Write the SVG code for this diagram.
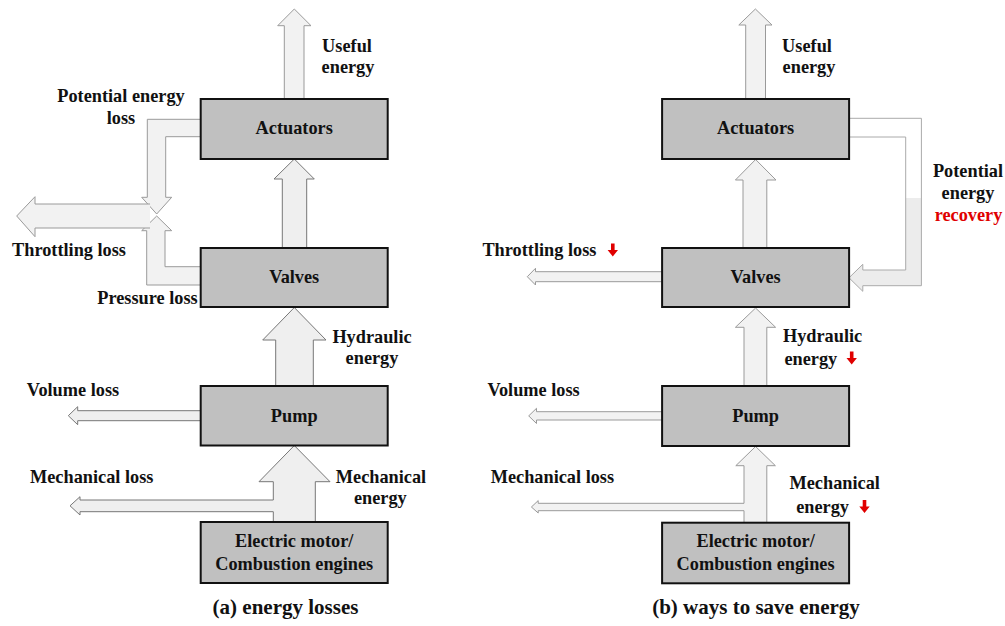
<svg xmlns="http://www.w3.org/2000/svg" width="1005" height="626" viewBox="0 0 1005 626">
<style>
.box{fill:#c0c0c0;stroke:#111;stroke-width:2}
.t{font-family:"Liberation Serif","Times New Roman",serif;font-weight:bold;font-size:18.3px;fill:#111;text-anchor:middle}
.title{font-family:"Liberation Serif","Times New Roman",serif;font-weight:bold;font-size:21px;fill:#111;text-anchor:middle}
.red{fill:#e00000}
.ar{fill:#efefef;stroke:#777;stroke-width:1;stroke-linejoin:miter}
.arl{fill:#f2f2f2;stroke:#9a9a9a;stroke-width:1}
.rd{fill:#e00000;stroke:none}
</style>
<defs>
<linearGradient id="rec" gradientUnits="userSpaceOnUse" x1="0" y1="118" x2="0" y2="292">
<stop offset="0" stop-color="#ffffff"/>
<stop offset="0.46" stop-color="#ffffff"/>
<stop offset="0.46" stop-color="#ececec"/>
<stop offset="1" stop-color="#ececec"/>
</linearGradient>
<path id="redArrow" d="M-1.8,0 H1.8 V6.5 H5.2 L0,13 L-5.2,6.5 H-1.8 Z"/>
</defs>

<g id="connectors">
<!-- left (a) -->
<path class="arl" d="M284.3,99 V25.7 H277.7 L294.3,9 L311,25.7 H304 V99"/>
<path class="ar" d="M282.3,248 V179 H274 L294.3,159 L314.3,179 H306.7 V248"/>
<path class="ar" d="M275.7,386 V340 H262.7 L294.3,307.5 L326,340 H313.3 V386"/>
<path class="ar" d="M273.3,522 V511.7 H80 V515 L70,505.8 L80,496.7 V500 H273.3 V481.7 H259 L294.3,445.5 L330,481.7 H315.3 V522"/>
<path class="ar" d="M200.7,410.7 H77.7 V406.7 L68.3,415.7 L77.7,424.7 V420.7 H200.7"/>
<path class="arl" d="M200.7,119.3 H147.3 V197.3 H141.7 L156.7,214 L171.7,197.3 H165.7 V136.7 H200.7"/>
<path class="arl" d="M200.7,285 H146.7 V230.7 H141.7 L156.7,216 L171.7,230.7 H165 V266.7 H200.7"/>
<path class="arl" d="M150,204 H35 V196.7 L16.7,216 L35,236.7 V228 H150"/>

<!-- right (b) -->
<path class="arl" d="M745.7,99 V25 H738.8 L755.4,9 L772,25 H765.5 V99"/>
<path class="arl" d="M743,248 V180 H735.4 L755.6,159.5 L776,180 H766.8 V248"/>
<path class="arl" d="M744,386 V327.3 H735.4 L755.6,308 L775.6,327.3 H766.8 V386"/>
<path class="arl" d="M744,523 V510.7 H538.2 V513 L531.4,507 L538.2,500.6 V503.3 H744 V465.7 H735.8 L755.6,446.5 L775.4,465.7 H766.8 V523"/>
<path class="arl" d="M662.1,411.7 H536.5 V408.3 L528.7,415.9 L536.5,423.5 V420 H662.1"/>
<path class="arl" d="M662.1,271.7 H535.5 V268.3 L527.3,276.7 L535.5,285 V281.7 H662.1"/>
<path fill="url(#rec)" stroke="#aaaaaa" stroke-width="1" d="M849,118.3 H921.4 V285.7 H862.8 V291.3 L849,277.8 L862.8,264.3 V270 H905.7 V137 H849"/>
</g>

<g id="actuators-a"><rect class="box" x="200.7" y="99" width="187" height="60"/><text class="t" x="294.2" y="134.3">Actuators</text></g>
<g id="valves-a"><rect class="box" x="200.7" y="248" width="187" height="59"/><text class="t" x="294.2" y="283">Valves</text></g>
<g id="pump-a"><rect class="box" x="200.7" y="386" width="187" height="59.5"/><text class="t" x="294.2" y="421.5">Pump</text></g>
<g id="motor-a"><rect class="box" x="200.7" y="522" width="187" height="61"/><text class="t" x="294.2" y="547"><tspan x="294.2">Electric motor/</tspan><tspan x="294.2" y="569.5">Combustion engines</tspan></text></g>

<g id="actuators-b"><rect class="box" x="662.1" y="99" width="187" height="60"/><text class="t" x="755.6" y="134.3">Actuators</text></g>
<g id="valves-b"><rect class="box" x="662.1" y="248" width="187" height="59"/><text class="t" x="755.6" y="283">Valves</text></g>
<g id="pump-b"><rect class="box" x="662.1" y="386" width="187" height="60"/><text class="t" x="755.6" y="421.5">Pump</text></g>
<g id="motor-b"><rect class="box" x="662.1" y="522.7" width="187" height="60.6"/><text class="t" x="755.6" y="547.3"><tspan x="755.6">Electric motor/</tspan><tspan x="755.6" y="569.5">Combustion engines</tspan></text></g>

<g id="labels-a">
<text class="t" x="347" y="51.7">Useful</text>
<text class="t" x="348" y="73">energy</text>
<text class="t" x="121" y="101.7">Potential energy</text>
<text class="t" x="121" y="124">loss</text>
<text class="t" x="69" y="256">Throttling loss</text>
<text class="t" x="147.5" y="304">Pressure loss</text>
<text class="t" x="372" y="342.7">Hydraulic</text>
<text class="t" x="372" y="363.5">energy</text>
<text class="t" x="73" y="395.7">Volume loss</text>
<text class="t" x="91.7" y="482.7">Mechanical loss</text>
<text class="t" x="381" y="482.7">Mechanical</text>
<text class="t" x="380.3" y="504">energy</text>
<text class="title" x="285.5" y="614">(a) energy losses</text>
</g>

<g id="labels-b">
<text class="t" x="807" y="51.7">Useful</text>
<text class="t" x="809" y="73">energy</text>
<text class="t" x="968" y="177.3">Potential</text>
<text class="t" x="968" y="199.3">energy</text>
<text class="t red" x="968.5" y="221">recovery</text>
<text class="t" x="539.4" y="256">Throttling loss</text>
<use href="#redArrow" class="rd" x="612.8" y="243.5"/>
<text class="t" x="810.8" y="365">energy</text>
<text class="t" x="822.6" y="341.7">Hydraulic</text>
<use href="#redArrow" class="rd" x="851.7" y="351.5"/>
<text class="t" x="533.6" y="395.7">Volume loss</text>
<text class="t" x="552.4" y="483.3">Mechanical loss</text>
<text class="t" x="834.7" y="489.3">Mechanical</text>
<text class="t" x="822.6" y="513.3">energy</text>
<use href="#redArrow" class="rd" x="864.5" y="500"/>
<text class="title" x="756" y="614">(b) ways to save energy</text>
</g>
</svg>
